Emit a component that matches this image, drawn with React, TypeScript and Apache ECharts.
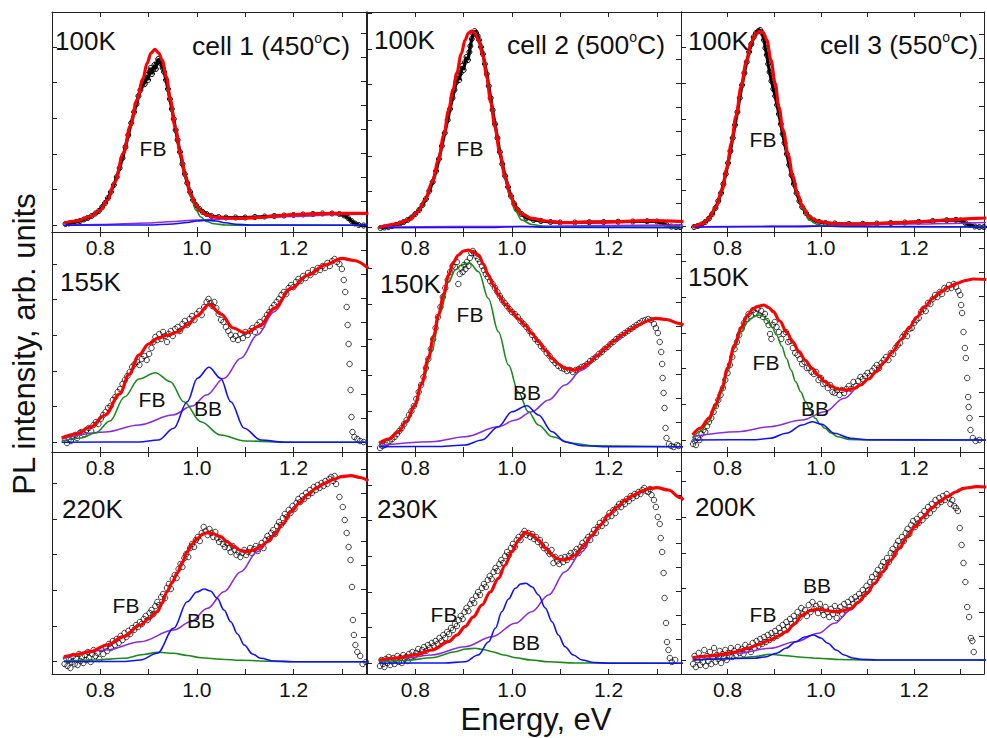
import React, { useEffect, useRef } from "react";
import * as echarts from "echarts";

type Pt = [number, number];

// ---------------- text content ----------------
const X_TICK_LABELS = ["0.8", "1.0", "1.2"];
const TEMPERATURES = ["100K", "100K", "100K", "155K", "150K", "150K", "220K", "230K", "200K"];
const CELL_NAMES = ["cell 1", "cell 2", "cell 3"];
const CELL_TEMPS = ["450", "500", "550"];
const X_TITLE = "Energy, eV";
const Y_TITLE = "PL intensity, arb. units";

// ---------------- cell 1, 100K ----------------
const C1_100K_PTS: Pt[] = [[0.728,8],[0.735,8.5],[0.742,9],[0.75,10],[0.758,11],[0.766,12.5],[0.774,14],[0.782,16],[0.79,18.5],[0.797,21],[0.804,25],[0.81,29],[0.816,34],[0.822,40],[0.828,47],[0.834,55],[0.84,64],[0.846,74],[0.852,85],[0.858,97],[0.864,109],[0.87,120],[0.875,128],[0.879,136],[0.883,142],[0.886,146],[0.889,150],[0.892,148],[0.894,153],[0.897,157],[0.899,152],[0.902,160],[0.904,164],[0.907,158],[0.909,162],[0.912,167],[0.915,163],[0.917,169],[0.92,173],[0.923,171],[0.926,168],[0.929,164],[0.932,160],[0.936,152],[0.94,143],[0.944,133],[0.948,123],[0.952,113],[0.956,102],[0.96,92],[0.965,80],[0.97,68],[0.975,58],[0.98,49],[0.986,40],[0.992,32],[0.998,27],[1.005,23],[1.012,20],[1.02,18],[1.03,16],[1.045,15],[1.06,14.5],[1.08,14.5],[1.1,14.5],[1.12,15],[1.14,15.5],[1.16,16],[1.18,16.5],[1.2,17],[1.22,17.5],[1.24,18],[1.26,18.5],[1.28,18.5],[1.295,18],[1.305,16.5],[1.313,14],[1.32,11],[1.327,8.5],[1.335,7],[1.345,6.5],[1.352,6.5]];
const C1_100K_FIT: Pt[] = [[0.725,9],[0.75,11],[0.78,15.5],[0.8,22],[0.815,32],[0.83,50],[0.848,79],[0.862,106],[0.876,132],[0.888,153],[0.897,169],[0.905,179],[0.913,182.7],[0.921,179],[0.928,172],[0.937,155],[0.945,132],[0.955,105],[0.966,78],[0.976,56],[0.987,38],[0.998,27],[1.008,21],[1.02,17],[1.035,15],[1.06,14],[1.09,13.7],[1.13,14.5],[1.16,16],[1.2,17.3],[1.23,18],[1.28,18.7],[1.355,18.7]];
const C1_100K_FB: Pt[] = [[0.725,9],[0.75,11],[0.78,15.5],[0.8,22],[0.815,32],[0.83,50],[0.848,79],[0.862,106],[0.876,132],[0.888,153],[0.897,169],[0.905,179],[0.913,182.7],[0.921,179],[0.928,172],[0.937,155],[0.945,132],[0.955,104],[0.966,76],[0.976,54],[0.987,35],[0.998,22],[1.008,15],[1.02,10.5],[1.035,8.3],[1.06,7],[1.1,6.7],[1.355,6.7]];
const C1_100K_BB: Pt[] = [[0.725,6.7],[0.9,7],[0.95,8],[0.98,9.5],[1.0,11],[1.02,11.8],[1.04,11],[1.06,9.2],[1.08,7.8],[1.11,7],[1.355,6.7]];
const C1_100K_BG: Pt[] = [[0.725,6.5],[0.8,7.5],[0.9,9],[0.95,10.5],[1.0,12],[1.05,13],[1.1,13.5],[1.2,15.5],[1.3,17.5],[1.355,18]];

// ---------------- cell 2, 100K ----------------
const C2_100K_PTS: Pt[] = [[0.728,4],[0.736,4.5],[0.744,5],[0.752,6],[0.76,7],[0.768,8.5],[0.776,10],[0.784,12],[0.792,14.5],[0.8,18],[0.808,22],[0.815,27],[0.822,33],[0.829,41],[0.836,50],[0.843,61],[0.849,73],[0.855,86],[0.861,99],[0.867,112],[0.872,123],[0.877,134],[0.881,142],[0.885,150],[0.888,156],[0.891,152],[0.894,159],[0.897,166],[0.9,162],[0.903,170],[0.906,175],[0.909,172],[0.912,180],[0.914,186],[0.917,193],[0.92,198],[0.923,201],[0.926,199],[0.929,196],[0.932,192],[0.936,185],[0.94,178],[0.944,168],[0.948,158],[0.952,146],[0.956,134],[0.96,122],[0.965,108],[0.97,94],[0.975,80],[0.98,68],[0.986,56],[0.992,45],[0.998,36],[1.005,28],[1.012,22],[1.02,18],[1.03,14],[1.045,12],[1.06,11],[1.08,10],[1.1,9.5],[1.13,9.5],[1.16,9.8],[1.19,10],[1.22,10.3],[1.25,10.5],[1.28,10.8],[1.3,10.5],[1.31,9],[1.32,7],[1.33,5.5],[1.34,5],[1.348,5]];
const C2_100K_FIT: Pt[] = [[0.725,4.5],[0.76,8],[0.786,12],[0.805,20],[0.82,32],[0.835,50],[0.848,72],[0.859,97],[0.869,122],[0.878,142],[0.886,159],[0.895,178],[0.903,192],[0.91,199],[0.916,201],[0.923,199],[0.931,192],[0.94,176],[0.948,155],[0.956,130],[0.965,105],[0.975,79],[0.986,55],[0.996,38],[1.007,25],[1.02,18],[1.041,13.7],[1.07,11],[1.11,9.3],[1.16,9.8],[1.214,10.3],[1.283,11.3],[1.355,10.3]];
const C2_100K_FB: Pt[] = [[0.725,4.5],[0.76,8],[0.786,12],[0.805,20],[0.82,32],[0.835,50],[0.848,72],[0.859,97],[0.869,122],[0.878,142],[0.886,159],[0.895,178],[0.903,192],[0.91,199],[0.916,201],[0.923,199],[0.931,192],[0.94,176],[0.948,155],[0.956,130],[0.965,105],[0.975,78],[0.986,53],[0.996,35],[1.007,21],[1.02,12],[1.041,7.5],[1.07,5.5],[1.1,5],[1.355,5]];
const C2_100K_BB: Pt[] = [[0.725,4.3],[0.95,4.5],[1.02,5.5],[1.08,4.7],[1.355,4.3]];
const C2_100K_BG: Pt[] = [[0.725,5],[1.0,5.5],[1.2,6.5],[1.355,7]];

// ---------------- cell 3, 100K ----------------
const C3_100K_PTS: Pt[] = [[0.728,5],[0.736,6],[0.744,7.5],[0.752,10],[0.76,13.5],[0.767,18],[0.774,24],[0.78,31],[0.786,39],[0.791,48],[0.796,58],[0.801,69],[0.806,81],[0.811,94],[0.816,107],[0.821,120],[0.826,134],[0.831,147],[0.836,159],[0.841,170],[0.846,180],[0.851,188],[0.856,195],[0.861,199],[0.866,201],[0.87,202],[0.874,199],[0.878,192],[0.881,184],[0.884,177],[0.887,168],[0.89,160],[0.894,151],[0.898,143],[0.902,136],[0.906,127],[0.91,118],[0.914,108],[0.918,98],[0.922,89],[0.927,78],[0.932,67],[0.937,57],[0.942,48],[0.948,39],[0.954,31],[0.96,25],[0.968,19],[0.976,14.5],[0.986,11.5],[0.996,10],[1.01,9],[1.03,8.5],[1.06,8],[1.09,8.2],[1.12,8.5],[1.15,9],[1.18,9.5],[1.21,10.2],[1.24,11],[1.27,11.8],[1.29,12.2],[1.3,11.5],[1.31,9],[1.32,7],[1.33,5.5],[1.34,5],[1.35,5]];
const C3_100K_FIT: Pt[] = [[0.725,5],[0.745,8],[0.76,13.7],[0.775,25],[0.788,42],[0.798,63],[0.808,88.7],[0.818,116],[0.829,145.3],[0.84,170],[0.85,188.7],[0.86,198],[0.869,201],[0.877,199],[0.884,192],[0.893,172],[0.902,148.7],[0.91,125],[0.919,102],[0.93,77],[0.94,55.3],[0.95,38],[0.961,25.3],[0.975,15],[0.995,10.3],[1.03,8.5],[1.064,8],[1.12,8.5],[1.168,9.3],[1.22,10.5],[1.271,12],[1.334,13.7],[1.355,14]];
const C3_100K_FB: Pt[] = [[0.725,5],[0.745,8],[0.76,13.7],[0.775,25],[0.788,42],[0.798,63],[0.808,88.7],[0.818,116],[0.829,145.3],[0.84,170],[0.85,188.7],[0.86,198],[0.869,201],[0.877,199],[0.884,192],[0.893,172],[0.902,148.7],[0.91,125],[0.919,102],[0.93,77],[0.94,55],[0.95,37],[0.961,23],[0.975,12],[0.995,7],[1.03,5.5],[1.1,5.3],[1.355,5.3]];
const C3_100K_BB: Pt[] = [[0.725,5],[0.95,5.3],[1.0,6],[1.06,5.5],[1.355,5]];
const C3_100K_BG: Pt[] = [[0.725,5.3],[1.0,6],[1.2,8],[1.355,9.5]];

// ---------------- cell 1, 155K ----------------
const C1_155K_PTS: Pt[] = [[0.731,9],[0.735,13],[0.739,11],[0.744,15],[0.748,17],[0.752,14],[0.757,19],[0.761,20],[0.766,18],[0.771,22],[0.776,24],[0.781,21],[0.786,27],[0.791,30],[0.796,28],[0.801,33],[0.806,37],[0.811,40],[0.816,44],[0.821,46],[0.826,52],[0.831,55],[0.836,60],[0.841,63],[0.846,68],[0.851,72],[0.856,76],[0.861,80],[0.866,85],[0.871,88],[0.876,90],[0.881,87],[0.886,93],[0.891,96],[0.896,92],[0.901,98],[0.906,104],[0.91,110],[0.914,115],[0.918,112],[0.922,118],[0.926,113],[0.93,120],[0.934,116],[0.938,110],[0.942,118],[0.946,121],[0.95,116],[0.955,123],[0.96,125],[0.965,121],[0.97,128],[0.975,131],[0.98,127],[0.985,133],[0.99,136],[0.995,132],[1.0,138],[1.005,141],[1.01,137],[1.015,145],[1.02,150],[1.024,153],[1.028,149],[1.032,146],[1.036,150],[1.04,144],[1.045,138],[1.05,132],[1.055,130],[1.06,125],[1.065,121],[1.07,117],[1.075,113],[1.08,116],[1.085,112],[1.09,118],[1.095,114],[1.1,120],[1.105,117],[1.11,121],[1.115,124],[1.12,120],[1.125,127],[1.13,130],[1.135,126],[1.14,133],[1.145,137],[1.15,140],[1.155,144],[1.16,147],[1.165,150],[1.17,153],[1.175,157],[1.18,160],[1.185,158],[1.19,164],[1.195,167],[1.2,165],[1.205,170],[1.21,173],[1.215,171],[1.22,176],[1.225,174],[1.23,179],[1.235,177],[1.24,182],[1.245,180],[1.25,184],[1.255,182],[1.26,186],[1.265,184],[1.27,189],[1.275,186],[1.28,191],[1.285,193],[1.29,190],[1.295,188],[1.3,183],[1.304,172],[1.307,160],[1.31,145],[1.312,127],[1.314,108],[1.316,88],[1.318,62],[1.32,35],[1.322,20],[1.326,15],[1.332,13],[1.338,11],[1.345,10],[1.352,8]];
const C1_155K_FIT: Pt[] = [[0.72,14],[0.75,18],[0.78,25],[0.81,37],[0.84,58],[0.86,78],[0.88,97],[0.9,108],[0.92,114],[0.94,117],[0.96,120],[0.98,127],[1.0,136],[1.025,147.7],[1.05,138],[1.075,124],[1.1,119],[1.13,126],[1.16,143.7],[1.195,163.7],[1.23,177],[1.265,187],[1.3,193.7],[1.325,191.5],[1.355,183.7]];
const C1_155K_FB: Pt[] = [[0.72,11],[0.76,14],[0.79,19],[0.82,31],[0.85,55],[0.88,73],[0.914,79.3],[0.945,70.3],[0.973,50.3],[1.008,30.3],[1.049,17],[1.1,11],[1.2,9.7],[1.355,9.7]];
const C1_155K_BB: Pt[] = [[0.72,9.7],[0.88,10],[0.92,12],[0.952,23.7],[0.98,50.3],[1.001,73.7],[1.025,84.7],[1.049,73.7],[1.07,50.3],[1.098,23.7],[1.132,12],[1.18,9.8],[1.355,9.7]];
const C1_155K_BG: Pt[] = [[0.72,13],[0.81,20],[0.88,27],[0.95,37],[0.99,46],[1.02,57],[1.056,73.7],[1.091,93.7],[1.125,117],[1.16,140.3],[1.195,163.7],[1.23,177],[1.265,187],[1.3,193.7],[1.325,191.5],[1.355,183.7]];

// ---------------- cell 2, 150K ----------------
const C2_150K_PTS: Pt[] = [[0.727,4],[0.732,6],[0.737,7],[0.742,9],[0.747,11],[0.752,13],[0.757,15],[0.762,18],[0.767,21],[0.772,24],[0.777,28],[0.782,32],[0.787,37],[0.792,41],[0.797,46],[0.802,53],[0.807,60],[0.812,67],[0.817,75],[0.822,84],[0.827,93],[0.832,103],[0.837,113],[0.842,124],[0.847,135],[0.852,145],[0.857,155],[0.862,164],[0.867,172],[0.872,180],[0.877,186],[0.882,185],[0.886,190],[0.889,168],[0.892,178],[0.895,184],[0.898,180],[0.901,187],[0.904,183],[0.907,190],[0.91,186],[0.913,194],[0.916,199],[0.919,201],[0.922,199],[0.926,196],[0.93,193],[0.934,190],[0.938,186],[0.942,182],[0.946,178],[0.95,175],[0.955,171],[0.96,168],[0.965,164],[0.97,160],[0.975,156],[0.98,152],[0.985,149],[0.99,146],[0.995,143],[1.0,140],[1.006,138],[1.012,135],[1.018,131],[1.024,128],[1.03,125],[1.036,121],[1.042,117],[1.048,113],[1.054,110],[1.06,106],[1.066,103],[1.072,99],[1.078,96],[1.084,92],[1.09,89],[1.096,86],[1.102,84],[1.108,83],[1.114,81],[1.12,82],[1.126,80],[1.132,82],[1.138,83],[1.144,85],[1.15,86],[1.156,88],[1.162,91],[1.168,93],[1.174,95],[1.18,98],[1.186,100],[1.192,103],[1.198,105],[1.204,108],[1.21,110],[1.216,113],[1.222,115],[1.228,117],[1.234,119],[1.24,121],[1.246,123],[1.252,125],[1.258,127],[1.264,129],[1.27,131],[1.276,132],[1.282,133],[1.288,132],[1.294,128],[1.298,124],[1.302,119],[1.306,110],[1.309,100],[1.311,88],[1.312,74],[1.314,59],[1.316,44],[1.318,24],[1.32,14],[1.325,8],[1.33,6],[1.335,5],[1.342,7],[1.345,6]];
const C2_150K_FIT: Pt[] = [[0.725,8.7],[0.745,13],[0.765,20.3],[0.782,31],[0.799,47],[0.813,68],[0.827,93.7],[0.838,116],[0.848,137],[0.859,158],[0.869,177],[0.879,190],[0.889,197],[0.9,201],[0.91,202],[0.92,200],[0.931,197],[0.941,188],[0.951,177],[0.962,167],[0.972,157],[0.986,148],[1.0,140.3],[1.014,133],[1.027,127],[1.041,118.5],[1.055,110.3],[1.069,102],[1.083,93.7],[1.096,88],[1.11,83.7],[1.131,82],[1.145,84.5],[1.159,88.7],[1.176,96],[1.193,103.7],[1.21,110.5],[1.228,117],[1.245,122.5],[1.262,127],[1.28,131],[1.297,133.7],[1.32,132.5],[1.345,128.7],[1.355,127]];
const C2_150K_FB: Pt[] = [[0.725,7],[0.745,12],[0.765,19.5],[0.782,30],[0.799,45],[0.815,70],[0.834,100.3],[0.852,140],[0.869,170.3],[0.883,182],[0.896,187],[0.912,189.3],[0.931,180.3],[0.951,153.7],[0.972,120.3],[0.993,87],[1.013,60.3],[1.034,40.3],[1.055,27],[1.083,15.3],[1.124,8.7],[1.17,6.3],[1.355,5.3]];
const C2_150K_BB: Pt[] = [[0.725,5.3],[0.85,5.5],[0.903,7],[0.938,12],[0.972,25.3],[1.0,40.3],[1.031,46.3],[1.055,37],[1.083,20.3],[1.11,10.3],[1.145,6.3],[1.2,5.3],[1.355,5.3]];
const C2_150K_BG: Pt[] = [[0.725,6.3],[0.834,10.3],[0.903,15.3],[0.972,25.3],[1.007,32],[1.041,40.3],[1.076,52],[1.11,67],[1.145,82],[1.179,98],[1.214,111],[1.245,122.5],[1.262,127],[1.28,131],[1.297,133.7],[1.32,132.5],[1.345,128.7],[1.355,127]];

// ---------------- cell 3, 150K ----------------
const C3_150K_PTS: Pt[] = [[0.726,8],[0.729,11],[0.732,7],[0.736,14],[0.74,12],[0.744,18],[0.748,22],[0.752,20],[0.756,26],[0.76,30],[0.765,34],[0.77,40],[0.775,46],[0.78,52],[0.785,57],[0.79,64],[0.795,72],[0.8,79],[0.805,87],[0.81,95],[0.815,103],[0.82,110],[0.825,117],[0.83,123],[0.835,129],[0.84,133],[0.845,138],[0.85,136],[0.855,142],[0.86,139],[0.864,143],[0.868,137],[0.872,141],[0.876,135],[0.88,138],[0.884,131],[0.888,127],[0.891,118],[0.894,113],[0.897,127],[0.901,130],[0.905,125],[0.91,120],[0.915,113],[0.92,118],[0.925,120],[0.93,110],[0.935,111],[0.94,104],[0.945,99],[0.95,97],[0.955,93],[0.96,88],[0.965,90],[0.97,84],[0.975,84],[0.98,80],[0.985,78],[0.99,80],[0.995,72],[1.0,74],[1.005,68],[1.01,69],[1.015,64],[1.02,67],[1.025,60],[1.03,59],[1.035,62],[1.04,57],[1.045,62],[1.05,59],[1.055,63],[1.06,66],[1.065,63],[1.07,70],[1.075,66],[1.08,71],[1.085,75],[1.09,73],[1.095,76],[1.1,79],[1.105,76],[1.11,81],[1.115,84],[1.12,87],[1.125,84],[1.13,89],[1.135,92],[1.14,95],[1.145,92],[1.15,99],[1.155,98],[1.16,104],[1.165,107],[1.17,109],[1.175,115],[1.18,118],[1.185,116],[1.19,123],[1.195,124],[1.2,129],[1.205,132],[1.21,134],[1.215,140],[1.22,143],[1.225,141],[1.23,149],[1.235,148],[1.24,153],[1.245,157],[1.25,155],[1.255,160],[1.26,158],[1.265,164],[1.27,163],[1.275,167],[1.28,164],[1.285,168],[1.29,165],[1.295,161],[1.299,157],[1.301,147],[1.303,139],[1.306,120],[1.309,104],[1.311,94],[1.314,74],[1.316,55],[1.317,45],[1.319,34],[1.321,22],[1.326,14],[1.332,11],[1.34,12]];
const C3_150K_FIT: Pt[] = [[0.725,17],[0.742,24],[0.76,33.7],[0.774,47],[0.788,63.7],[0.8,84],[0.815,107],[0.829,124],[0.843,137],[0.854,143],[0.864,145.3],[0.878,147],[0.888,144.5],[0.898,140.3],[0.912,131],[0.926,120.3],[0.94,110],[0.953,100.3],[0.967,91.5],[0.981,83.7],[0.995,76.5],[1.009,70.3],[1.022,66],[1.036,63],[1.057,62],[1.071,63.5],[1.085,67],[1.102,73],[1.119,80.3],[1.136,90],[1.154,100.3],[1.171,112],[1.189,123.7],[1.206,135],[1.223,145.3],[1.24,153.5],[1.258,160.3],[1.275,165],[1.292,168.7],[1.31,171.5],[1.327,173],[1.355,172.5]];
const C3_150K_FB: Pt[] = [[0.725,13.7],[0.742,21],[0.76,30.3],[0.774,44],[0.788,60.3],[0.8,80],[0.815,103.7],[0.829,120],[0.843,130.3],[0.855,135],[0.867,137],[0.876,136],[0.884,132],[0.895,125],[0.905,117],[0.916,106],[0.926,93.7],[0.936,82],[0.946,70.3],[0.957,60],[0.967,50.3],[0.978,41],[0.988,33.7],[0.998,28],[1.009,23.7],[1.022,19],[1.036,15.3],[1.06,12.5],[1.1,12],[1.355,12]];
const C3_150K_BB: Pt[] = [[0.725,12],[0.86,12.3],[0.891,13.7],[0.926,18.7],[0.96,27],[0.981,30.3],[1.002,27.7],[1.029,18.7],[1.064,13.7],[1.1,12.2],[1.355,12]];
const C3_150K_BG: Pt[] = [[0.725,15.3],[0.822,20.3],[0.891,25.3],[0.96,32],[1.009,40.3],[1.05,53.7],[1.085,67],[1.102,73],[1.119,80.3],[1.136,90],[1.154,100.3],[1.171,112],[1.189,123.7],[1.206,135],[1.223,145.3],[1.24,153.5],[1.258,160.3],[1.275,165],[1.292,168.7],[1.31,171.5],[1.327,173],[1.355,172.5]];

// ---------------- cell 1, 220K ----------------
const C1_220K_PTS: Pt[] = [[0.726,10],[0.729,16],[0.732,8],[0.735,14],[0.738,6],[0.741,12],[0.744,18],[0.747,10],[0.75,15],[0.753,9],[0.756,20],[0.759,13],[0.762,17],[0.765,11],[0.768,19],[0.771,14],[0.774,22],[0.777,16],[0.78,12],[0.783,20],[0.786,24],[0.79,18],[0.794,21],[0.798,15],[0.802,25],[0.806,20],[0.81,27],[0.814,23],[0.818,30],[0.822,26],[0.826,33],[0.83,29],[0.834,35],[0.838,31],[0.842,38],[0.846,34],[0.85,41],[0.854,37],[0.858,43],[0.862,40],[0.866,46],[0.87,44],[0.874,49],[0.878,47],[0.882,52],[0.886,50],[0.89,55],[0.894,58],[0.898,54],[0.902,61],[0.906,64],[0.91,60],[0.914,68],[0.918,72],[0.922,69],[0.926,77],[0.93,80],[0.934,76],[0.938,86],[0.942,90],[0.946,85],[0.95,95],[0.954,99],[0.958,96],[0.962,105],[0.966,110],[0.97,107],[0.974,116],[0.978,120],[0.982,117],[0.986,126],[0.99,130],[0.994,127],[0.998,134],[1.002,137],[1.006,133],[1.01,141],[1.014,147],[1.018,143],[1.022,139],[1.026,145],[1.03,141],[1.034,137],[1.038,142],[1.042,136],[1.046,132],[1.05,135],[1.054,130],[1.058,127],[1.062,131],[1.066,126],[1.07,122],[1.074,128],[1.078,124],[1.082,119],[1.086,122],[1.09,117],[1.094,121],[1.098,124],[1.102,119],[1.106,122],[1.11,126],[1.114,121],[1.118,125],[1.122,128],[1.126,123],[1.13,127],[1.134,131],[1.138,126],[1.142,134],[1.146,138],[1.15,135],[1.154,141],[1.158,144],[1.162,140],[1.166,148],[1.17,152],[1.174,149],[1.178,156],[1.182,160],[1.186,157],[1.19,164],[1.194,161],[1.198,168],[1.202,165],[1.206,171],[1.21,175],[1.214,172],[1.218,178],[1.222,175],[1.226,181],[1.23,178],[1.234,184],[1.238,181],[1.242,187],[1.246,184],[1.25,189],[1.254,186],[1.258,191],[1.262,188],[1.266,193],[1.27,190],[1.274,195],[1.278,197],[1.282,193],[1.285,198],[1.288,190],[1.295,177],[1.302,167],[1.306,154],[1.31,141],[1.314,127],[1.318,114],[1.321,87],[1.323,54],[1.325,39],[1.328,29],[1.332,22],[1.338,18],[1.343,10],[1.35,12]];
const C1_220K_FIT: Pt[] = [[0.725,17],[0.75,19.5],[0.779,22.3],[0.814,29],[0.848,37.3],[0.883,49],[0.9,55],[0.918,62.3],[0.928,71],[0.938,82.3],[0.948,91],[0.959,100.7],[0.97,112],[0.98,122.3],[0.99,130],[1.001,135.7],[1.012,140],[1.022,141.3],[1.035,140],[1.049,137.3],[1.063,132],[1.077,127.3],[1.091,123.5],[1.105,122.3],[1.118,124],[1.132,127.3],[1.146,132.5],[1.16,139],[1.178,150],[1.195,162.3],[1.212,171],[1.229,179],[1.246,185.5],[1.264,190.7],[1.282,194.5],[1.299,197.3],[1.319,198.3],[1.337,196.5],[1.355,193]];
const C1_220K_FB: Pt[] = [[0.725,13],[0.79,14],[0.848,15.7],[0.89,19.5],[0.918,21.7],[0.952,20.7],[0.98,18.5],[1.008,16.3],[1.05,14.7],[1.091,13.7],[1.15,12.8],[1.2,12.3],[1.355,12.3]];
const C1_220K_BB: Pt[] = [[0.725,12.3],[0.85,12.5],[0.883,14],[0.918,20.7],[0.952,45.7],[0.98,72.3],[1.0,82],[1.015,85],[1.028,83],[1.042,75.7],[1.056,64],[1.07,52.3],[1.084,40],[1.098,29],[1.115,20],[1.132,15.7],[1.16,13],[1.2,12.3],[1.355,12.3]];
const C1_220K_BG: Pt[] = [[0.725,15.7],[0.814,24],[0.883,32.3],[0.952,44],[0.987,52.3],[1.022,65.7],[1.056,82.3],[1.091,102.3],[1.125,122.3],[1.16,139],[1.178,150],[1.195,162.3],[1.212,171],[1.229,179],[1.246,185.5],[1.264,190.7],[1.282,194.5],[1.299,197.3],[1.319,198.3],[1.337,196.5],[1.355,193]];

// ---------------- cell 2, 230K ----------------
const C2_230K_PTS: Pt[] = [[0.727,8],[0.73,14],[0.733,10],[0.736,7],[0.739,15],[0.742,11],[0.745,17],[0.748,9],[0.751,13],[0.754,16],[0.757,10],[0.76,14],[0.763,18],[0.766,12],[0.769,16],[0.772,11],[0.775,19],[0.778,15],[0.781,17],[0.784,13],[0.787,20],[0.79,17],[0.794,22],[0.798,18],[0.802,21],[0.806,25],[0.81,20],[0.814,24],[0.818,27],[0.822,23],[0.826,29],[0.83,26],[0.834,31],[0.838,28],[0.842,33],[0.846,30],[0.85,36],[0.854,33],[0.858,39],[0.862,36],[0.866,42],[0.87,40],[0.874,46],[0.878,44],[0.882,50],[0.886,48],[0.89,54],[0.894,58],[0.898,55],[0.902,62],[0.906,66],[0.91,63],[0.914,70],[0.918,74],[0.922,71],[0.926,78],[0.93,82],[0.934,79],[0.938,86],[0.942,90],[0.946,87],[0.95,94],[0.954,98],[0.958,95],[0.962,102],[0.966,106],[0.97,103],[0.974,110],[0.978,114],[0.982,111],[0.986,118],[0.99,122],[0.994,119],[0.998,126],[1.002,130],[1.006,127],[1.01,134],[1.014,137],[1.018,134],[1.022,140],[1.026,143],[1.03,139],[1.034,141],[1.038,137],[1.042,140],[1.046,135],[1.05,137],[1.054,132],[1.058,134],[1.062,129],[1.066,126],[1.07,129],[1.074,123],[1.078,120],[1.082,124],[1.086,111],[1.09,117],[1.094,113],[1.098,110],[1.102,116],[1.106,112],[1.11,117],[1.114,114],[1.118,118],[1.122,121],[1.126,117],[1.13,122],[1.134,125],[1.138,121],[1.142,127],[1.146,131],[1.15,128],[1.154,134],[1.158,137],[1.162,134],[1.166,140],[1.17,144],[1.174,141],[1.178,147],[1.182,151],[1.186,148],[1.19,154],[1.194,151],[1.198,157],[1.202,161],[1.206,158],[1.21,164],[1.214,161],[1.218,167],[1.222,170],[1.226,167],[1.23,172],[1.234,170],[1.238,175],[1.242,173],[1.246,178],[1.25,176],[1.254,180],[1.258,178],[1.262,182],[1.266,180],[1.27,184],[1.274,186],[1.278,183],[1.282,182],[1.286,185],[1.289,179],[1.294,174],[1.298,167],[1.302,157],[1.306,150],[1.308,136],[1.311,122],[1.314,101],[1.316,76],[1.319,51],[1.321,32],[1.324,24],[1.327,16],[1.331,12],[1.338,14]];
const C2_230K_FIT: Pt[] = [[0.725,14],[0.76,16],[0.799,19],[0.834,24],[0.869,32.3],[0.886,39],[0.903,47.3],[0.92,57],[0.938,69],[0.955,82],[0.972,95.7],[0.986,109],[1.0,122.3],[1.014,134],[1.027,141.7],[1.041,139.5],[1.055,134],[1.069,126],[1.083,119],[1.095,115],[1.107,114],[1.119,115.5],[1.131,119],[1.148,128],[1.166,139],[1.183,149],[1.2,159],[1.218,167],[1.235,174],[1.252,179],[1.269,183],[1.285,185.5],[1.3,186.3],[1.324,184],[1.349,176.3],[1.355,174]];
const C2_230K_FB: Pt[] = [[0.725,12.3],[0.78,13.5],[0.834,16.3],[0.883,22.3],[0.905,25],[0.924,25.7],[0.94,24.5],[0.959,22.3],[0.983,19],[1.007,16.3],[1.04,14],[1.076,12.3],[1.13,11],[1.355,10.7]];
const C2_230K_BB: Pt[] = [[0.725,10.7],[0.86,11],[0.903,12.3],[0.93,19],[0.952,32.3],[0.966,46],[0.979,62.3],[0.993,75],[1.007,85.7],[1.018,90],[1.029,90.7],[1.042,87],[1.055,79],[1.069,66],[1.083,52.3],[1.096,39],[1.11,27.3],[1.127,19],[1.145,14],[1.17,11.5],[1.2,10.7],[1.355,10.7]];
const C2_230K_BG: Pt[] = [[0.725,13],[0.78,16],[0.834,19],[0.903,27.3],[0.959,37.3],[1.007,50.7],[1.041,62.3],[1.076,79],[1.11,102.3],[1.145,122.3],[1.166,137],[1.183,149],[1.2,159],[1.218,167],[1.235,174],[1.252,179],[1.269,183],[1.285,185.5],[1.3,186.3],[1.324,184],[1.349,176.3],[1.355,174]];

// ---------------- cell 3, 200K ----------------
const C3_200K_PTS: Pt[] = [[0.726,10],[0.729,18],[0.732,7],[0.735,14],[0.738,21],[0.741,9],[0.744,16],[0.747,12],[0.75,24],[0.753,8],[0.756,18],[0.759,13],[0.762,22],[0.765,10],[0.768,17],[0.771,26],[0.774,12],[0.777,19],[0.78,15],[0.783,23],[0.786,11],[0.789,20],[0.792,16],[0.795,24],[0.798,14],[0.801,21],[0.804,18],[0.807,26],[0.81,17],[0.814,23],[0.818,19],[0.822,27],[0.826,21],[0.83,25],[0.834,20],[0.838,29],[0.842,24],[0.846,27],[0.85,22],[0.854,31],[0.858,26],[0.862,33],[0.866,28],[0.87,35],[0.874,30],[0.878,37],[0.882,32],[0.886,39],[0.89,34],[0.894,41],[0.898,36],[0.902,43],[0.906,38],[0.91,46],[0.914,41],[0.918,49],[0.922,44],[0.926,52],[0.93,47],[0.934,55],[0.938,50],[0.942,58],[0.946,53],[0.95,62],[0.954,56],[0.958,66],[0.962,60],[0.966,64],[0.97,58],[0.974,69],[0.978,62],[0.982,72],[0.986,65],[0.99,68],[0.994,61],[0.998,70],[1.002,64],[1.006,59],[1.01,67],[1.014,62],[1.018,57],[1.022,65],[1.026,60],[1.03,68],[1.034,56],[1.038,63],[1.042,67],[1.046,60],[1.05,70],[1.054,64],[1.058,72],[1.062,67],[1.066,75],[1.07,70],[1.074,77],[1.078,73],[1.082,80],[1.086,76],[1.09,84],[1.094,80],[1.098,88],[1.102,84],[1.106,92],[1.11,97],[1.114,92],[1.118,100],[1.122,104],[1.126,99],[1.13,108],[1.134,112],[1.138,107],[1.142,116],[1.146,112],[1.15,121],[1.154,125],[1.158,120],[1.162,129],[1.166,133],[1.17,128],[1.174,137],[1.178,133],[1.182,141],[1.186,145],[1.19,140],[1.194,149],[1.198,153],[1.202,147],[1.206,155],[1.21,151],[1.214,159],[1.218,154],[1.222,163],[1.226,158],[1.23,167],[1.234,161],[1.238,170],[1.242,165],[1.246,174],[1.25,169],[1.254,176],[1.258,172],[1.262,178],[1.266,174],[1.27,180],[1.274,176],[1.278,170],[1.282,174],[1.286,168],[1.29,166],[1.294,163],[1.298,146],[1.302,129],[1.306,111],[1.31,92],[1.314,67],[1.318,57],[1.322,36],[1.325,33],[1.328,22]];
const C3_200K_FIT: Pt[] = [[0.725,16.3],[0.76,18],[0.788,19.7],[0.815,22],[0.843,25.7],[0.867,29.5],[0.891,34],[0.909,38],[0.926,42.3],[0.943,50],[0.96,59],[0.978,63.5],[0.995,65],[1.012,63.5],[1.029,62.3],[1.046,63],[1.064,65.7],[1.081,72],[1.098,80.7],[1.116,91],[1.133,102.3],[1.15,114],[1.168,125.7],[1.185,137],[1.202,147.3],[1.22,157],[1.237,165.7],[1.254,172],[1.271,177.3],[1.289,182],[1.306,185.7],[1.334,187.3],[1.355,187]];
const C3_200K_FB: Pt[] = [[0.725,14],[0.822,15.7],[0.86,17.5],[0.891,19.7],[0.926,18.3],[0.96,16.8],[0.995,15.7],[1.04,14.5],[1.1,14],[1.355,14]];
const C3_200K_BB: Pt[] = [[0.725,14],[0.857,15.7],[0.88,17],[0.905,20.7],[0.926,26],[0.946,32.3],[0.965,37],[0.984,39],[1.0,36],[1.015,30.7],[1.033,24],[1.05,19],[1.068,16],[1.085,14.7],[1.12,14],[1.355,14]];
const C3_200K_BG: Pt[] = [[0.725,15.7],[0.822,20.7],[0.891,25.7],[0.946,32.3],[0.995,40.7],[1.029,50.7],[1.064,64],[1.081,72],[1.098,80.7],[1.116,91],[1.133,102.3],[1.15,114],[1.168,125.7],[1.185,137],[1.202,147.3],[1.22,157],[1.237,165.7],[1.254,172],[1.271,177.3],[1.289,182],[1.306,185.7],[1.334,187.3],[1.355,187]];

// panel table (row-major: rows = temperature sets, columns = cells)
const PANELS = [
  { pts: C1_100K_PTS, fit: C1_100K_FIT, fb: C1_100K_FB, bb: C1_100K_BB, bg: C1_100K_BG },
  { pts: C2_100K_PTS, fit: C2_100K_FIT, fb: C2_100K_FB, bb: C2_100K_BB, bg: C2_100K_BG },
  { pts: C3_100K_PTS, fit: C3_100K_FIT, fb: C3_100K_FB, bb: C3_100K_BB, bg: C3_100K_BG },
  { pts: C1_155K_PTS, fit: C1_155K_FIT, fb: C1_155K_FB, bb: C1_155K_BB, bg: C1_155K_BG },
  { pts: C2_150K_PTS, fit: C2_150K_FIT, fb: C2_150K_FB, bb: C2_150K_BB, bg: C2_150K_BG },
  { pts: C3_150K_PTS, fit: C3_150K_FIT, fb: C3_150K_FB, bb: C3_150K_BB, bg: C3_150K_BG },
  { pts: C1_220K_PTS, fit: C1_220K_FIT, fb: C1_220K_FB, bb: C1_220K_BB, bg: C1_220K_BG },
  { pts: C2_230K_PTS, fit: C2_230K_FIT, fb: C2_230K_FB, bb: C2_230K_BB, bg: C2_230K_BG },
  { pts: C3_200K_PTS, fit: C3_200K_FIT, fb: C3_200K_FB, bb: C3_200K_BB, bg: C3_200K_BG },
];

// ---------------- layout & style (not data) ----------------
const FONT = '"Liberation Sans", Arial, Helvetica, sans-serif';
const COL_LEFT = [52, 367, 681];
const ROW_TOP = [12, 232, 452];
const ROW_H = [220, 220, 222];
const PANEL_W = 314;
const X_MIN = 0.7;
const X_MAX = 1.35;
const BASELINES = [6.7, 4.7, 6, 9.7, 5.3, 12, 12.3, 10.7, 14];
const TEMP_POS: Pt[] = [[55, 41], [374, 40], [688, 41], [60, 282], [380, 283.5], [688, 277], [62, 509], [377, 509], [695, 507]];
const CELL_POS: Pt[] = [[192, 46], [507, 45], [820, 45]];
const FB_POS: Pt[] = [[153, 148], [470, 148], [763, 139], [152, 399], [470, 314], [766, 362], [126, 605], [444, 614], [763, 614]];
const BB_POS: (Pt | null)[] = [null, null, null, [208, 408], [527, 392], [815, 408], [201, 620], [526, 642], [817, 585]];

const RED = "#ff0000";
const GREEN = "#1a8a1a";
const BLUE = "#1010ff";
const PURPLE = "#8a2be2";
const AXIS_COLOR = "#222";

function ticksFrom(base: number, step: number, max: number): number[] {
  const out: number[] = [];
  for (let v = base; v < max - 1; v += step) out.push(v);
  return out;
}

function buildOption() {
  const grid: any[] = [];
  const xAxis: any[] = [];
  const yAxis: any[] = [];
  const series: any[] = [];
  const graphic: any[] = [];

  PANELS.forEach((p, i) => {
    const r = Math.floor(i / 3);
    const c = i % 3;
    const H = ROW_H[r];
    grid.push({ left: COL_LEFT[c], top: ROW_TOP[r], width: PANEL_W, height: H, containLabel: false });

    const xBase = {
      gridIndex: i,
      type: "value",
      min: X_MIN,
      max: X_MAX,
      interval: 0.1,
      splitLine: { show: false },
      axisLine: { show: true, onZero: false, lineStyle: { color: AXIS_COLOR, width: 1 } },
      axisTick: { show: true, inside: true, length: 5, lineStyle: { color: AXIS_COLOR, width: 1 } },
    };
    xAxis.push({
      ...xBase,
      position: "bottom",
      axisLabel: {
        show: true,
        margin: 5,
        fontSize: 21,
        fontFamily: FONT,
        color: "#111",
        formatter: (v: number) => {
          const t = v.toFixed(1);
          return X_TICK_LABELS.includes(t) && Math.abs(v - parseFloat(t)) < 1e-6 ? t : "";
        },
      },
    });
    xAxis.push({ ...xBase, position: "top", axisLabel: { show: false } });

    const b = BASELINES[i];
    const yBase = {
      gridIndex: i,
      type: "value",
      min: 0,
      max: H,
      splitLine: { show: false },
      axisLabel: { show: false },
      axisLine: { show: true, onZero: false, lineStyle: { color: AXIS_COLOR, width: 1 } },
    };
    yAxis.push({
      ...yBase,
      position: "left",
      axisTick: { show: true, inside: true, length: 5, customValues: ticksFrom(b, 35.7, H), lineStyle: { color: AXIS_COLOR } },
    });
    yAxis.push({
      ...yBase,
      position: "right",
      axisTick: { show: true, inside: true, length: 5, customValues: ticksFrom(b, 24, H), lineStyle: { color: AXIS_COLOR } },
    });

    const xi = 2 * i;
    const yi = 2 * i;
    if (r === 0) {
      series.push({
        type: "line",
        xAxisIndex: xi,
        yAxisIndex: yi,
        data: p.pts,
        symbol: "circle",
        symbolSize: 5,
        showAllSymbol: true,
        lineStyle: { color: "#000", width: 3.2 },
        itemStyle: { color: "rgba(0,0,0,0)", borderColor: "#000", borderWidth: 1 },
        z: 2,
      });
    } else {
      series.push({
        type: "scatter",
        xAxisIndex: xi,
        yAxisIndex: yi,
        data: p.pts,
        symbol: "circle",
        symbolSize: 5.5,
        itemStyle: { color: "rgba(0,0,0,0)", borderColor: "#111", borderWidth: 1 },
        z: 2,
      });
    }
    const line = (data: Pt[], color: string, width: number, z: number) => ({
      type: "line",
      xAxisIndex: xi,
      yAxisIndex: yi,
      data,
      smooth: 0.35,
      smoothMonotone: "x",
      showSymbol: false,
      symbol: "none",
      lineStyle: { color, width },
      z,
    });
    series.push(line(p.bg, PURPLE, 1.6, 3));
    series.push(line(p.fb, GREEN, 1.6, 3));
    series.push(line(p.bb, BLUE, 1.6, 3));
    series.push(line(p.fit, RED, 3.2, 4));

    // panel texts
    graphic.push({
      type: "text",
      x: TEMP_POS[i][0],
      y: TEMP_POS[i][1],
      z: 100,
      style: { text: TEMPERATURES[i], font: `26px ${FONT}`, fill: "#111", textAlign: "left", align: "left", textVerticalAlign: "middle", verticalAlign: "middle" },
    });
    graphic.push({
      type: "text",
      x: FB_POS[i][0],
      y: FB_POS[i][1],
      z: 100,
      style: { text: "FB", font: `21px ${FONT}`, fill: "#111", textAlign: "center", align: "center", textVerticalAlign: "middle", verticalAlign: "middle" },
    });
    const bbp = BB_POS[i];
    if (bbp) {
      graphic.push({
        type: "text",
        x: bbp[0],
        y: bbp[1],
        z: 100,
        style: { text: "BB", font: `21px ${FONT}`, fill: "#111", textAlign: "center", align: "center", textVerticalAlign: "middle", verticalAlign: "middle" },
      });
    }
  });

  CELL_NAMES.forEach((name, c) => {
    graphic.push({
      type: "text",
      x: CELL_POS[c][0],
      y: CELL_POS[c][1],
      z: 100,
      style: {
        text: `{a|${name} (${CELL_TEMPS[c]}}{s|o}{a|C)}`,
        textAlign: "left",
        align: "left",
        textVerticalAlign: "middle",
        verticalAlign: "middle",
        rich: {
          a: { fontSize: 26.5, fontFamily: FONT, fill: "#111" },
          s: { fontSize: 14, fontFamily: FONT, fill: "#111", padding: [0, 0, 17, 0] },
        },
      },
    });
  });

  graphic.push({
    type: "text",
    x: 536,
    y: 719,
    z: 100,
    style: { text: X_TITLE, font: `31px ${FONT}`, fill: "#111", textAlign: "center", align: "center", textVerticalAlign: "middle", verticalAlign: "middle" },
  });
  graphic.push({
    type: "text",
    x: 24,
    y: 344,
    rotation: Math.PI / 2,
    z: 100,
    style: { text: Y_TITLE, font: `31px ${FONT}`, fill: "#111", textAlign: "center", align: "center", textVerticalAlign: "middle", verticalAlign: "middle" },
  });

  return {
    animation: false,
    backgroundColor: "#ffffff",
    grid,
    xAxis,
    yAxis,
    series,
    graphic,
  };
}

export default function App() {
  const ref = useRef<HTMLDivElement>(null);
  useEffect(() => {
    if (!ref.current) return;
    const chart = echarts.init(ref.current, null, { renderer: "svg" });
    chart.setOption(buildOption() as any);
    return () => chart.dispose();
  }, []);
  return (
    <div
      ref={ref}
      style={{ position: "absolute", left: 0, top: 0, width: 987, height: 738, background: "#fff" }}
    />
  );
}
